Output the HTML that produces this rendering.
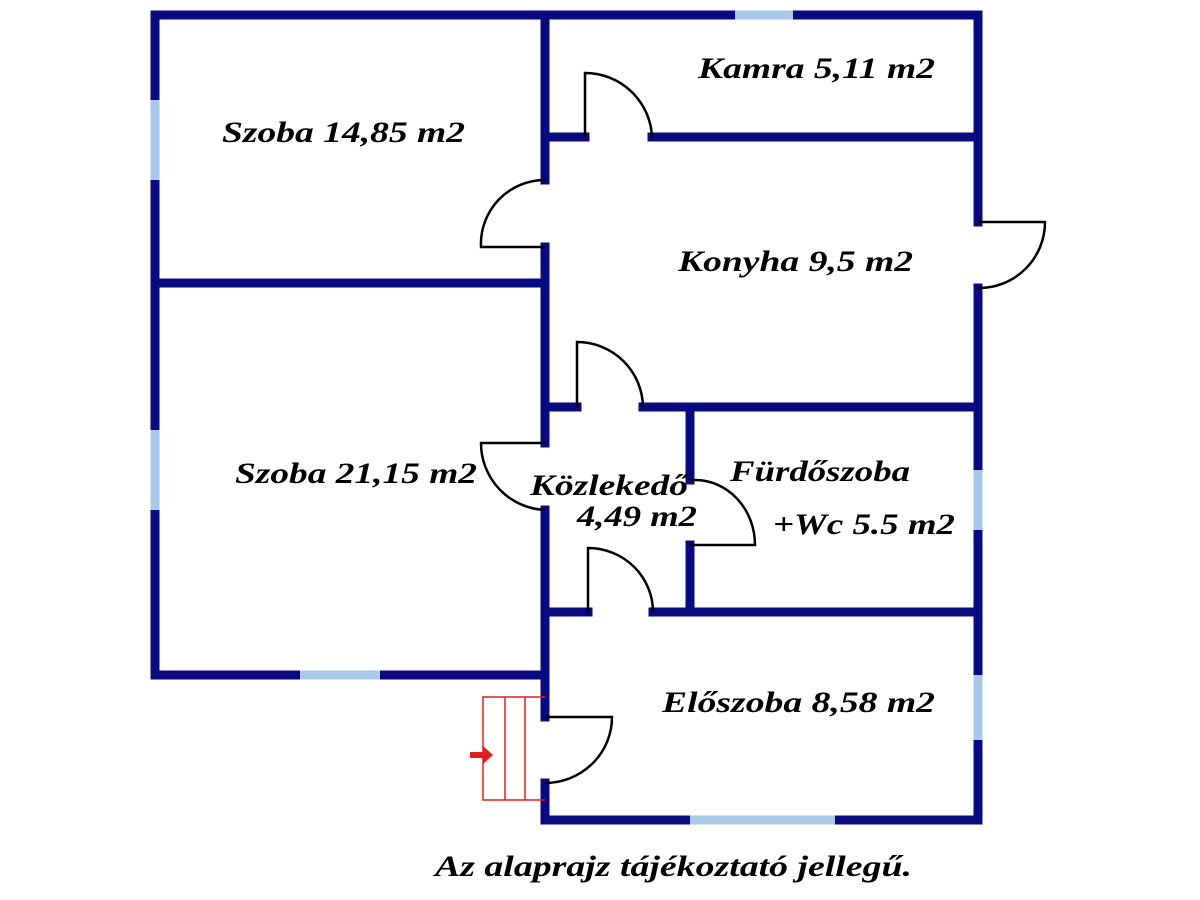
<!DOCTYPE html><html><head><style>body{margin:0;background:#fff}svg{display:block}text{font-family:"Liberation Serif",serif;font-style:italic;font-weight:bold;font-size:30px;fill:#000}</style></head><body>
<svg width="1200" height="900" viewBox="0 0 1200 900">
<g stroke="#0a0a80" stroke-width="9" fill="none" stroke-linecap="square">
<path d="M155 15H978V137M978 137V222M978 288V820H545V783M545 717V510M545 443V407"/>
<path d="M155 15V675H545"/>
<path d="M545 15V180M545 247V407"/>
<path d="M155 283H545"/>
<path d="M545 137H585M652 137H978"/>
<path d="M545 407H577M643 407H978"/>
<path d="M690 407V480M690 545V612"/>
<path d="M545 612H588M653 612H978"/>
</g>
<g stroke="#a9c8e8" stroke-width="9">
<path d="M735 15H793M155 100V180M155 430V510M300 675H380M978 470V530M978 675V740M690 820H835"/>
</g>
<g stroke="#000" stroke-width="2.5" fill="none">
<path d="M585 137V73A67 67 0 0 1 652 137"/>
<path d="M545 180A64 64 0 0 0 481 247H545"/>
<path d="M978 222H1045A66 66 0 0 1 978 288"/>
<path d="M577 407V342A66 66 0 0 1 643 407"/>
<path d="M545 443H481A67 67 0 0 0 545 510"/>
<path d="M690 480H695A60 65 0 0 1 755 545H690"/>
<path d="M588 612V548A65 64 0 0 1 653 612"/>
<path d="M545 717H612A67 66 0 0 1 545 783"/>
</g>
<g stroke="#e02020" stroke-width="1.5" fill="none">
<path d="M545 697H483V800H545M505 697V800M525 697V800"/>
</g>
<path d="M470 752H483V746L493 755L483 764V758H470Z" fill="#e02020"/>
<text x="222" y="142" textLength="243" lengthAdjust="spacingAndGlyphs">Szoba 14,85 m2</text>
<text x="698" y="78" textLength="237" lengthAdjust="spacingAndGlyphs">Kamra 5,11 m2</text>
<text x="678" y="271" textLength="235" lengthAdjust="spacingAndGlyphs">Konyha 9,5 m2</text>
<text x="235" y="483" textLength="242" lengthAdjust="spacingAndGlyphs">Szoba 21,15 m2</text>
<text x="530" y="495" textLength="158" lengthAdjust="spacingAndGlyphs">Közlekedő</text>
<text x="577" y="526" textLength="120" lengthAdjust="spacingAndGlyphs">4,49 m2</text>
<text x="730" y="481" textLength="180" lengthAdjust="spacingAndGlyphs">Fürdőszoba</text>
<text x="773" y="534" textLength="182" lengthAdjust="spacingAndGlyphs">+Wc 5.5 m2</text>
<text x="662" y="712" textLength="273" lengthAdjust="spacingAndGlyphs">Előszoba 8,58 m2</text>
<text x="435" y="876" textLength="477" lengthAdjust="spacingAndGlyphs">Az alaprajz tájékoztató jellegű.</text>
</svg></body></html>
